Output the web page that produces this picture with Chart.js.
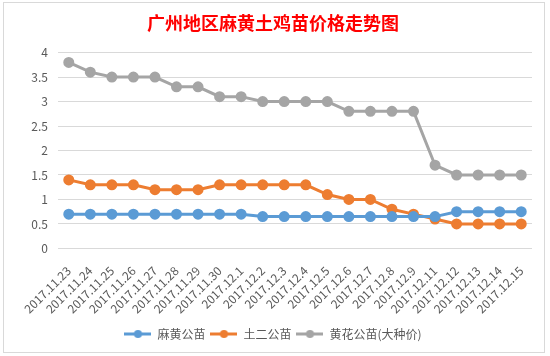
<!DOCTYPE html>
<html>
<head>
<meta charset="utf-8">
<script src="https://cdn.jsdelivr.net/npm/chart.js@4/dist/chart.umd.min.js"></script>
<style>
  body { margin: 0; background: #fff; }
  #box { position: absolute; left: 3px; top: 2px; width: 540px; height: 349px; border: 1px solid #d9d9d9; }
</style>
</head>
<body>
<div id="box"><canvas id="chart" width="540" height="349"></canvas></div>
<script>
// datas
var labels = ['2017.11.23','2017.11.24','2017.11.25','2017.11.26','2017.11.27','2017.11.28','2017.11.29','2017.11.30',
  '2017.12.1','2017.12.2','2017.12.3','2017.12.4','2017.12.5','2017.12.6','2017.12.7','2017.12.8','2017.12.9',
  '2017.12.11','2017.12.12','2017.12.13','2017.12.14','2017.12.15'];
var mahuang = [0.7,0.7,0.7,0.7,0.7,0.7,0.7,0.7,0.7,0.65,0.65,0.65,0.65,0.65,0.65,0.65,0.65,0.65,0.75,0.75,0.75,0.75];
var tuer = [1.4,1.3,1.3,1.3,1.2,1.2,1.2,1.3,1.3,1.3,1.3,1.3,1.1,1.0,1.0,0.8,0.7,0.6,0.5,0.5,0.5,0.5];
var huanghua = [3.8,3.6,3.5,3.5,3.5,3.3,3.3,3.1,3.1,3.0,3.0,3.0,3.0,2.8,2.8,2.8,2.8,1.7,1.5,1.5,1.5,1.5];

// marcador da legenda: linha com bolinha no meio
function legendIcon(color){
  var c = document.createElement('canvas');
  c.width = 27; c.height = 10;
  var ctx = c.getContext('2d');
  ctx.strokeStyle = color; ctx.lineWidth = 3;
  ctx.beginPath(); ctx.moveTo(0, 5); ctx.lineTo(27, 5); ctx.stroke();
  ctx.fillStyle = color;
  ctx.beginPath(); ctx.arc(13.5, 5, 4, 0, Math.PI * 2); ctx.fill();
  return c;
}

function serie(label, data, color){
  return {
    label: label,
    data: data,
    borderColor: color,
    backgroundColor: color,
    borderWidth: 3,
    pointRadius: 4,
    pointHoverRadius: 4,
    pointStyle: 'circle',
    tension: 0,
    fill: false
  };
}

var font = "'Noto Sans CJK SC', 'Noto Sans', sans-serif";

new Chart(document.getElementById('chart'), {
  type: 'line',
  data: {
    labels: labels,
    datasets: [
      serie('麻黄公苗', mahuang, '#5B9BD5'),
      serie('土二公苗', tuer, '#ED7D31'),
      serie('黄花公苗(大种价)', huanghua, '#A5A5A5')
    ]
  },
  options: {
    responsive: false,
    animation: false,
    layout: { padding: { left: 10, right: 12, top: 2, bottom: 2 } },
    plugins: {
      title: {
        display: true,
        text: '广州地区麻黄土鸡苗价格走势图',
        color: '#FF0000',
        font: { family: font, size: 18, weight: 'bold' },
        padding: { top: 7, bottom: 19 }
      },
      legend: {
        position: 'bottom',
        labels: {
          color: '#595959',
          font: { family: font, size: 12 },
          usePointStyle: true,
          pointStyleWidth: 27,
          padding: 5,
          generateLabels: function(chart){
            return chart.data.datasets.map(function(ds, i){
              return {
                text: ds.label,
                pointStyle: legendIcon(ds.borderColor),
                fillStyle: ds.borderColor,
                strokeStyle: ds.borderColor,
                lineWidth: 0,
                fontColor: '#595959',
                datasetIndex: i
              };
            });
          }
        }
      },
      tooltip: { enabled: false }
    },
    scales: {
      x: {
        offset: true,
        grid: { display: false },
        border: { display: false },
        ticks: {
          color: '#595959',
          font: { family: font, size: 12 },
          padding: 7,
          minRotation: 45,
          maxRotation: 45,
          autoSkip: false
        }
      },
      y: {
        min: 0,
        max: 4,
        afterFit: function(scale){ scale.width = 44; },
        grid: { color: '#D9D9D9', drawTicks: false },
        border: { display: false },
        ticks: {
          stepSize: 0.5,
          color: '#595959',
          padding: 10,
          font: { family: font, size: 12 },
          callback: function(v){ return String(v); }
        }
      }
    }
  }
});
</script>
</body>
</html>
